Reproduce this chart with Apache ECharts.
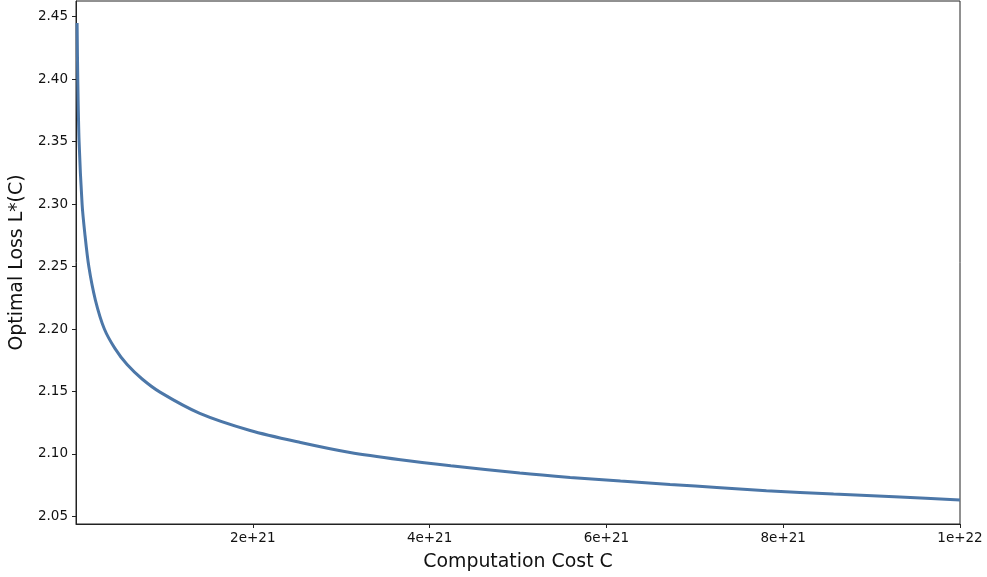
<!DOCTYPE html>
<html>
<head>
<meta charset="utf-8">
<script src="https://cdn.jsdelivr.net/npm/echarts@6/dist/echarts.min.js"></script>
<style>
html,body{margin:0;padding:0;background:#fff;}
#chart{width:987px;height:577px;}
</style>
</head>
<body>
<div id="chart"></div>
<script>
// Computation cost C (in units of 1e21)
const costE21 = [0.0124, 0.020, 0.035, 0.069, 0.099, 0.145, 0.22, 0.321, 0.44, 0.578, 0.748, 0.95, 1.40, 1.97, 2.54, 3.10, 3.67, 4.24, 5.02, 5.59, 6.16, 6.72, 7.29, 7.81, 8.57, 9.32, 10.0];
// Optimal loss L*(C)
const lossValues = [2.445, 2.400, 2.350, 2.300, 2.277, 2.250, 2.223, 2.200, 2.1845, 2.1715, 2.160, 2.1495, 2.1325, 2.1188, 2.1092, 2.1012, 2.0954, 2.0906, 2.0847, 2.0812, 2.0783, 2.0756, 2.0730, 2.0706, 2.0679, 2.0655, 2.0631];
const xTicks = [2e21, 4e21, 6e21, 8e21, 1e22];
const yTicks = [2.05, 2.10, 2.15, 2.20, 2.25, 2.30, 2.35, 2.40, 2.45];
const xTitle = 'Computation Cost C';
const yTitle = 'Optimal Loss L*(C)';

const seriesData = costE21.map((c, i) => [c * 1e21, lossValues[i]]);
const font = 'DejaVu Sans';

function sci(v) {
  const e = Math.floor(Math.log10(v) + 1e-9);
  const m = v / Math.pow(10, e);
  return (Math.round(m * 100) / 100) + 'e+' + e;
}

const chart = echarts.init(document.getElementById('chart'), null, {renderer: 'canvas'});
chart.setOption({
  animation: false,
  backgroundColor: '#ffffff',
  grid: {left: 76, right: 27, top: 1, bottom: 53, show: true, borderColor: '#222', borderWidth: 1, backgroundColor: 'transparent'},
  xAxis: {
    type: 'value', min: 0, max: 1e22,
    name: xTitle, nameLocation: 'middle', nameGap: 29,
    nameTextStyle: {fontFamily: font, fontSize: 18.9, color: '#111'},
    axisLine: {show: true, lineStyle: {color: '#222', width: 1}},
    axisTick: {show: true, length: 4, inside: false, customValues: xTicks, lineStyle: {color: '#222', width: 1}},
    axisLabel: {customValues: xTicks, margin: 7, fontFamily: font, fontSize: 13.5, color: '#111', formatter: v => sci(v)},
    splitLine: {show: false}
  },
  yAxis: {
    type: 'value', min: 2.0439, max: 2.4626,
    name: yTitle, nameLocation: 'middle', nameGap: 47,
    nameTextStyle: {fontFamily: font, fontSize: 18.9, color: '#111'},
    axisLine: {show: true, lineStyle: {color: '#222', width: 1}},
    axisTick: {show: true, length: 4, customValues: yTicks, lineStyle: {color: '#222', width: 1}},
    axisLabel: {customValues: yTicks, margin: 8, fontFamily: font, fontSize: 13.5, color: '#111', formatter: v => v.toFixed(2)},
    splitLine: {show: false}
  },
  series: [{
    type: 'line',
    data: seriesData,
    smooth: 0.3,
    showSymbol: false,
    lineStyle: {color: '#4c77a8', width: 3},
    clip: true
  }]
});
</script>
</body>
</html>
